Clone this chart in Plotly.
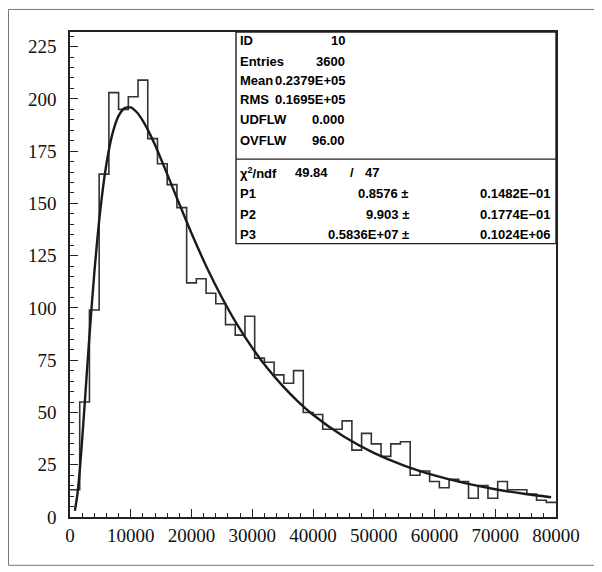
import plotly.graph_objects as go

# ---- data ----
counts = [13, 55, 99, 164, 203, 195, 201, 209, 181, 169,
          159, 148, 112, 114, 107, 102, 92, 87, 96, 76,
          74, 68, 64, 70, 50, 49, 42, 42, 46, 32,
          40, 35, 29, 35, 36, 20, 22, 17, 14, 18,
          17, 9, 15, 9, 17, 13, 13, 11, 8, 7]
bin_width = 1600

fit_x = [800, 1200, 1600, 2000, 2400, 2800, 3200, 4000, 5000, 6000, 7000, 8000,
         9000, 10000, 11000, 12000, 13000, 14000, 16000, 18000, 20000, 22500,
         25000, 27500, 30000, 32500, 35000, 37500, 40000, 45000, 50000, 55000,
         60000, 65000, 70000, 75000, 79200]
fit_y = [2.97, 10.4, 22.2, 37.0, 53.3, 70.1, 86.6, 116.7, 147.1, 169.0, 183.5, 191.9,
         195.6, 195.9, 193.6, 189.5, 184.1, 177.9, 164.0, 149.7, 135.7, 119.5,
         105.0, 92.1, 80.9, 71.1, 62.7, 55.3, 48.9, 38.6, 30.7, 24.6,
         19.9, 16.2, 13.3, 11.0, 9.45]

stats_labels = ["ID", "Entries", "Mean", "RMS", "UDFLW", "OVFLW"]
stats_values = ["10", "3600", "0.2379E+05", "0.1695E+05", "0.000", "96.00"]
chi2_value = "49.84"
ndf_value = "47"
par_names = ["P1", "P2", "P3"]
par_values = ["0.8576", "9.903", "0.5836E+07"]
par_errors = ["0.1482E\u221201", "0.1774E\u221201", "0.1024E+06"]

x_tickvals = [0, 10000, 20000, 30000, 40000, 50000, 60000, 70000, 80000]
x_ticktext = ["0", "10000", "20000", "30000", "40000", "50000", "60000", "70000", "80000"]
y_tickvals = [0, 25, 50, 75, 100, 125, 150, 175, 200, 225]
y_ticktext = ["0", "25", "50", "75", "100", "125", "150", "175", "200", "225"]

# ---- figure ----
edges = [i * bin_width for i in range(len(counts) + 1)]
step_y = counts + [counts[-1]]

fig = go.Figure()
fig.add_trace(go.Scatter(x=edges, y=step_y, mode="lines", line_shape="hv",
                         line=dict(color="#333333", width=1.6), hoverinfo="skip",
                         showlegend=False))
fig.add_trace(go.Scatter(x=fit_x, y=fit_y, mode="lines", line_shape="spline",
                         line=dict(color="#1a1a1a", width=2.4, smoothing=0.6),
                         hoverinfo="skip", showlegend=False))

tickfont = dict(family="Liberation Serif", size=19, color="#111111")
fig.update_xaxes(range=[0, 80000], tickvals=x_tickvals, ticktext=x_ticktext,
                 ticks="inside", ticklen=8, automargin=False,
                 tickwidth=1.2, tickcolor="#222", showline=True, linecolor="#222",
                 linewidth=1.6, mirror=True, showgrid=False, zeroline=False,
                 tickfont=tickfont, ticklabelstandoff=0,
                 minor=dict(dtick=2000, ticks="inside", ticklen=4, tickcolor="#222",
                            tickwidth=1, showgrid=False))
fig.update_yaxes(range=[0, 232], tickvals=y_tickvals, ticktext=y_ticktext,
                 ticks="inside", ticklen=8, automargin=False,
                 tickwidth=1.2, tickcolor="#222", showline=True, linecolor="#222",
                 linewidth=1.6, mirror=True, showgrid=False, zeroline=False,
                 tickfont=tickfont, ticklabelstandoff=8,
                 minor=dict(dtick=5, ticks="inside", ticklen=4, tickcolor="#222",
                            tickwidth=1, showgrid=False))

# stats box geometry (paper coords of the plot area)
box_x0, box_y0 = 0.3416, 0.5637
sep_y = 0.7380
shapes = [
    dict(type="rect", xref="paper", yref="paper", x0=box_x0, x1=1, y0=box_y0, y1=1,
         line=dict(color="#222", width=1.4), fillcolor="white", layer="above"),
    dict(type="line", xref="paper", yref="paper", x0=box_x0, x1=1, y0=sep_y, y1=sep_y,
         line=dict(color="#222", width=1.2)),
    dict(type="rect", xref="paper", yref="paper", x0=-0.1265, x1=1.0802,
         y0=-0.0996, y1=1.0465, line=dict(color="#777", width=1)),
]

sfont = dict(family="Liberation Sans", size=13, color="#000000", weight="bold")
lab_x = 0.346
annotations = []
row_y = [0.9835, 0.9402, 0.899, 0.8598, 0.8186, 0.7773]
for lab, val, yy in zip(stats_labels, stats_values, row_y):
    annotations.append(dict(xref="paper", yref="paper", x=lab_x, y=yy, text=lab,
                            showarrow=False, xanchor="left", yanchor="middle", font=sfont))
    annotations.append(dict(xref="paper", yref="paper", x=0.570, y=yy, text=val,
                            showarrow=False, xanchor="right", yanchor="middle", font=sfont))

annotations.append(dict(xref="paper", yref="paper", x=lab_x, y=0.7093,
                        text="\u03c7<sup>2</sup>/ndf", showarrow=False,
                        xanchor="left", yanchor="middle", font=sfont))
annotations.append(dict(xref="paper", yref="paper", x=0.536, y=0.7093,
                        text=chi2_value, showarrow=False,
                        xanchor="right", yanchor="middle", font=sfont))
annotations.append(dict(xref="paper", yref="paper", x=0.580, y=0.7093, text="/",
                        showarrow=False, xanchor="center", yanchor="middle", font=sfont))
annotations.append(dict(xref="paper", yref="paper", x=0.640, y=0.7093,
                        text=ndf_value, showarrow=False,
                        xanchor="right", yanchor="middle", font=sfont))

par_y = [0.668, 0.6247, 0.5835]
for nm, v, e, yy in zip(par_names, par_values, par_errors, par_y):
    annotations.append(dict(xref="paper", yref="paper", x=lab_x, y=yy, text=nm,
                            showarrow=False, xanchor="left", yanchor="middle", font=sfont))
    annotations.append(dict(xref="paper", yref="paper", x=0.702, y=yy,
                            text=v + " \u00b1", showarrow=False,
                            xanchor="right", yanchor="middle", font=sfont))
    annotations.append(dict(xref="paper", yref="paper", x=0.992, y=yy, text=e,
                            showarrow=False, xanchor="right", yanchor="middle", font=sfont))

# the page body has an 8px margin, so the figure is drawn 8px smaller and offset
fig.update_layout(width=594, height=564, margin=dict(l=62, r=46, t=24, b=55),
                  paper_bgcolor="white", plot_bgcolor="white",
                  shapes=shapes, annotations=annotations, showlegend=False)

fig.write_html("out.html")
